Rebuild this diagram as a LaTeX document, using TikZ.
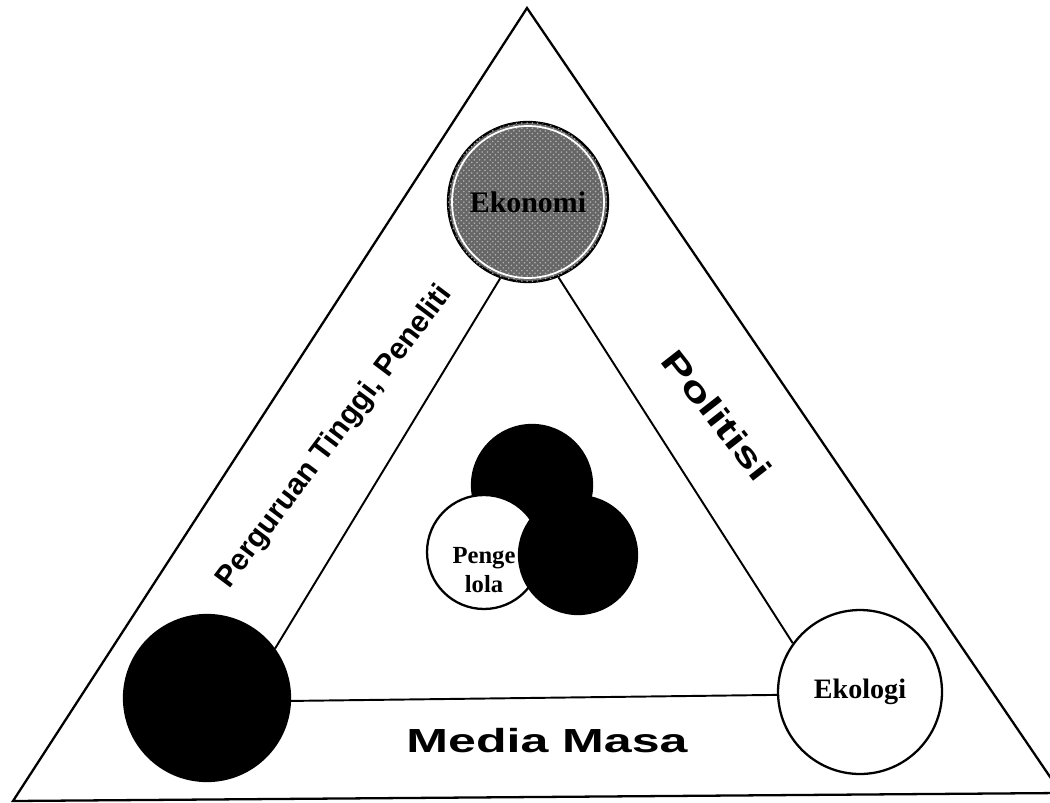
\documentclass[tikz,border=0pt]{standalone}
\usepackage{fontspec}
\setmainfont{Liberation Serif}
\newfontfamily\labelfont{Liberation Sans}
\usetikzlibrary{patterns}
\tikzset{
    frame/.style={line width=1.3pt, line join=miter},
    link/.style={line width=1.1pt},
    actor/.style={circle, draw, line width=1.3pt, inner sep=0pt, minimum size=#1,
        font=\bfseries\fontsize{16}{19}\selectfont},
    ekofill/.style={fill=black!60, postaction={pattern=crosshatch dots, pattern color=white!70!black}},
    sidelabel/.style={font=\labelfont\bfseries\fontsize{19}{22}\selectfont, inner sep=0pt}
}

\begin{document}
\begin{tikzpicture}[x=0.02cm, y=-0.02cm]
    \useasboundingbox (0,0) rectangle (1050,803);

    % outer triangle
    \draw[frame] (13,801) -- (527,8) -- (1061,793) -- cycle;

    % the three corners
    \node[actor=3.2cm, ekofill, font=\bfseries\fontsize{17}{20}\selectfont] (ekonomi) at (528,202) {Ekonomi};
    \draw[white, line width=1pt] (ekonomi.center) circle[radius=1.52cm];
    \node[actor=3.32cm, fill=black] (pt) at (207,698) {};
    \node[actor=3.28cm, fill=white] (ekologi) at (860,692) {Ekologi};

    % inner triangle
    \draw[link] (pt.36) -- (ekonomi.250);
    \draw[link] (ekonomi.292) -- (ekologi.144);
    \draw[link] (pt.358) -- (ekologi.182);

    % pengelola in the middle
    \node[actor=2.4cm, fill=black] (blobtop) at (532,485) {};
    \node[actor=2.28cm, fill=white] (pengelola) at (484,552) {};
    \node[font=\bfseries\fontsize{14}{17}\selectfont, align=center, inner sep=0pt] (pengelolatext) at (484,570) {Penge\\lola};
    \node[actor=2.36cm, fill=black] (blobright) at (578,555) {};

    % labels along the sides
    \node[sidelabel, font=\labelfont\bfseries\fontsize{17}{20}\selectfont, rotate=53] (ptlabel) at (335,437) {Perguruan Tinggi, Peneliti};
    \node[sidelabel, rotate=-52, xscale=1.42] (politisi) at (717,415) {Politisi};
    \node[sidelabel, xscale=1.5] (media) at (547,741) {Media Masa};
\end{tikzpicture}
\end{document}
